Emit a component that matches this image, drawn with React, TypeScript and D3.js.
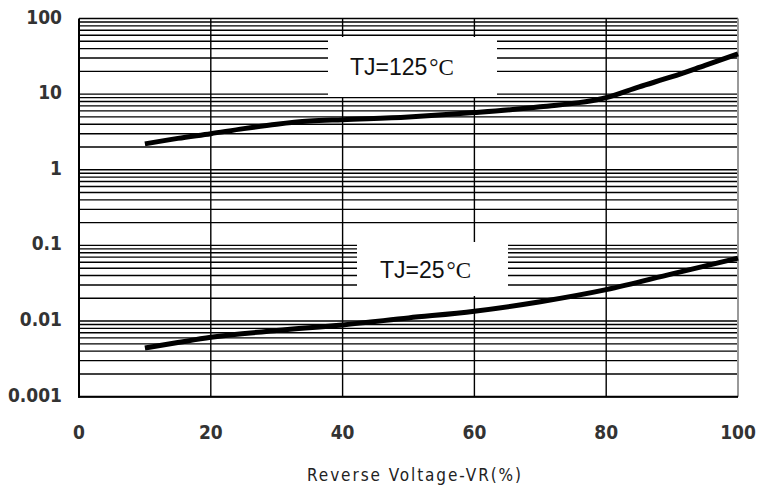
import React from 'react';
import * as d3 from 'd3';

// Reverse leakage current vs. reverse voltage, two junction temperatures
const voltagePct = [10, 15, 20, 25, 30, 35, 40, 50, 60, 70, 80, 85, 90, 95, 100];
const current125 = [2.2, 2.6, 3.0, 3.5, 4.0, 4.4, 4.6, 5.0, 5.7, 6.8, 9.0, 12.5, 17, 24, 34];

const voltagePct25 = [10, 15, 20, 30, 40, 50, 60, 70, 80, 90, 100];
const current25 = [0.0044, 0.0052, 0.0061, 0.0075, 0.0089, 0.011, 0.0135, 0.018, 0.026, 0.042, 0.068];

const xTicks = [0, 20, 40, 60, 80, 100];
const yTicks = [0.001, 0.01, 0.1, 1, 10, 100];
const yTickLabels = ['0.001', '0.01', '0.1', '1', '10', '100'];

const W = 771;
const H = 490;
const left = 79;
const right = 738;
const top = 18.5;
const bottom = 396.7;

const App: React.FC = () => {
  const x = d3.scaleLinear().domain([0, 100]).range([left, right]);
  const y = d3.scaleLog().domain([0.001, 100]).range([bottom, top]);

  // minor log grid: 1..9 within every decade, plus the top
  const gridVals: number[] = [];
  yTicks.slice(0, -1).forEach(d => {
    for (let k = 1; k <= 9; k++) gridVals.push(d * k);
  });
  gridVals.push(100);

  const line = d3.line<[number, number]>()
    .x(d => x(d[0]))
    .y(d => y(d[1]))
    .curve(d3.curveMonotoneX);

  const path125 = line(voltagePct.map((v, i) => [v, current125[i]] as [number, number])) || '';
  const path25 = line(voltagePct25.map((v, i) => [v, current25[i]] as [number, number])) || '';

  const tickFont = '"DejaVu Sans", sans-serif';

  return (
    <svg width={W} height={H} style={{ position: 'absolute', left: 0, top: 0, background: '#fff' }}>
      {/* horizontal grid */}
      {gridVals.map((v, i) => (
        <line key={'h' + i} x1={left} x2={right} y1={y(v)} y2={y(v)} stroke="#000" strokeWidth={1.4} />
      ))}
      {/* vertical grid */}
      {xTicks.slice(1, -1).map(t => (
        <line key={'v' + t} x1={x(t)} x2={x(t)} y1={top} y2={bottom} stroke="#000" strokeWidth={1.4} />
      ))}
      <line x1={right} x2={right} y1={top} y2={bottom} stroke="#999" strokeWidth={2} />
      <line x1={left} x2={left} y1={top} y2={bottom + 1} stroke="#000" strokeWidth={2} />
      <line x1={left - 1} x2={right} y1={bottom} y2={bottom} stroke="#000" strokeWidth={2} />

      {/* curves */}
      <path d={path125} fill="none" stroke="#000" strokeWidth={5} />
      <path d={path25} fill="none" stroke="#000" strokeWidth={5} />

      {/* annotation boxes */}
      <rect x={328} y={37} width={169} height={60} fill="#fff" />
      <text x={350} y={75} fontFamily='"Liberation Sans", Arial, sans-serif' fontSize={23} fill="#111">
        TJ=125<tspan fontFamily='"Liberation Serif", serif' dx={2}>°C</tspan>
      </text>
      <rect x={357} y={242} width={151} height={54} fill="#fff" />
      <text x={380} y={278} fontFamily='"Liberation Sans", Arial, sans-serif' fontSize={23} fill="#111">
        TJ=25<tspan fontFamily='"Liberation Serif", serif' dx={2}>°C</tspan>
      </text>

      {/* y tick labels */}
      {yTicks.map((t, i) => (
        <text key={'yl' + t} x={62} y={y(t) + 5} textAnchor="end" fontFamily={tickFont}
          fontWeight="bold" fontSize={19} style={{ fontStretch: 'condensed' }} fill="#333">
          {yTickLabels[i]}
        </text>
      ))}
      {/* x tick labels */}
      {xTicks.map(t => (
        <text key={'xl' + t} x={x(t)} y={439} textAnchor="middle" fontFamily={tickFont}
          fontWeight="bold" fontSize={19} style={{ fontStretch: 'condensed' }} fill="#333">
          {t}
        </text>
      ))}
      <text x={307} y={481} textLength={214} lengthAdjust="spacing" fontFamily={tickFont}
        fontSize={17} style={{ fontStretch: 'condensed' }} fill="#222">
        Reverse Voltage-VR(%)
      </text>
    </svg>
  );
};

export default App;
